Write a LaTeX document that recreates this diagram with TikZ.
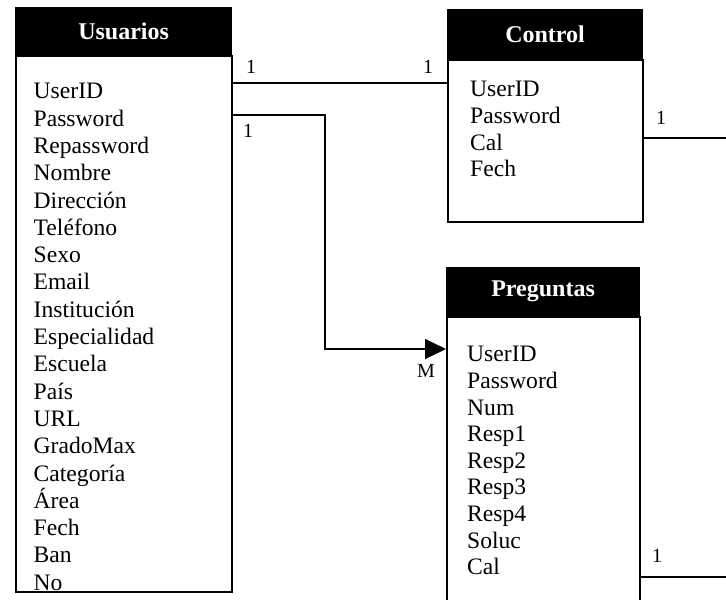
\documentclass[tikz,border=0pt]{standalone}
\usepackage{fontspec}
\setmainfont{Liberation Serif}
\usetikzlibrary{arrows.meta, positioning}
\tikzset{
  tabhead/.style={rectangle, fill=black, draw=black, line width=1.2pt, text=white, font=\fontsize{24}{28}\selectfont\bfseries, anchor=north west, inner sep=0pt},
  tabbody/.style={rectangle, draw=black, line width=1.5pt, anchor=north west, inner sep=0pt},
  fields/.style={align=left, inner sep=0pt, anchor=north west, font=\fontsize{23.6}{#1}\selectfont},
  fields/.default=27,
  card/.style={font=\fontsize{20}{24}\selectfont, inner sep=0pt},
  link/.style={draw=black, line width=1.3pt},
  many/.style={link, -{Triangle[length=21pt, width=20pt]}}
}

\begin{document}
\begin{tikzpicture}[x=1pt, y=-1pt]
\useasboundingbox (0,0) rectangle (726,600);
\clip (0,0) rectangle (726,600);

% Usuarios
\node[tabhead, minimum width=216pt, minimum height=47pt] (usuarios) at (15,7) {Usuarios};
\node[tabbody, minimum width=216pt, minimum height=536pt] (usuariosbody) at (usuarios.south west) {};
\node[fields=27.3, below right=28pt and 18.5pt of usuariosbody.north west] (usuariosfields)
  {UserID\\Password\\Repassword\\Nombre\\Dirección\\Teléfono\\Sexo\\Email\\Institución\\Especialidad\\Escuela\\País\\URL\\GradoMax\\Categoría\\Área\\Fech\\Ban\\No};

% Control
\node[tabhead, minimum width=195pt, minimum height=49pt] (control) at (447,9) {Control};
\node[tabbody, minimum width=195pt, minimum height=162pt] (controlbody) at (control.south west) {};
\node[fields=26.7, below right=22pt and 23pt of controlbody.north west] (controlfields)
  {UserID\\Password\\Cal\\Fech};

% Preguntas
\node[tabhead, minimum width=193pt, minimum height=48pt] (preguntas) at (446,267) {Preguntas};
\node[tabbody, minimum width=193pt, minimum height=290pt] (preguntasbody) at (preguntas.south west) {};
\node[fields=26.6, below right=30pt and 21pt of preguntasbody.north west] (preguntasfields)
  {UserID\\Password\\Num\\Resp1\\Resp2\\Resp3\\Resp4\\Soluc\\Cal};

% relaciones
\coordinate (rowa) at (0,83);
\coordinate (rowb) at (0,115);
\coordinate (bend) at (325,349);
\coordinate (offcontrol) at (726,138);
\coordinate (offpreguntas) at (726,577);

\draw[link] (usuariosbody.east |- rowa) -- (controlbody.west |- rowa);
\draw[many] (usuariosbody.east |- rowb) -| (bend) -- (preguntasbody.west |- bend);
\draw[link] (controlbody.east |- offcontrol) -- (offcontrol);
\draw[link] (preguntasbody.east |- offpreguntas) -- (offpreguntas);

\node[card] (ua) at (251,67) {1};
\node[card] (ca) at (428,67) {1};
\node[card] (ub) at (248,131) {1};
\node[card] (pm) at (426,371) {M};
\node[card] (cb) at (661,118) {1};
\node[card] (pb) at (657,556) {1};

\end{tikzpicture}
\end{document}
